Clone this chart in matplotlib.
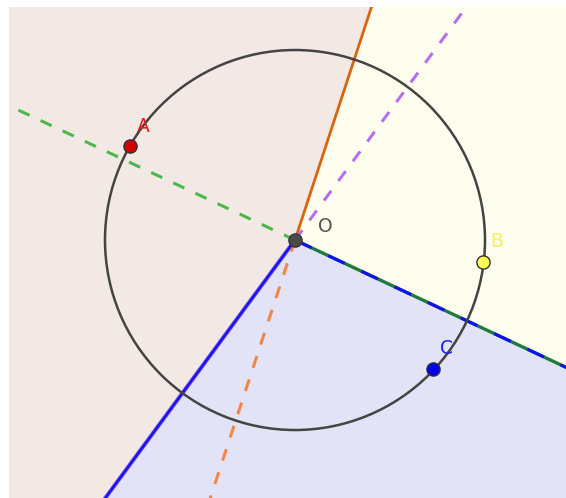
import numpy as np
import matplotlib.pyplot as plt
from matplotlib.patches import Wedge, Circle

# points on the circle (centre O at origin), radius 5
names = ["A", "B", "C"]
px = [-4.34, 4.95, 3.63]
py = [2.47, -0.58, -3.39]
point_colors = ["#D40000", "#FFFF55", "#0000F0"]
label_colors = ["#E02020", "#F5F060", "#2020F0"]
radius = 5.0

fig = plt.figure(figsize=(5.66, 4.98), dpi=100)
ax = fig.add_axes([9 / 566, 0, 557 / 566, 491 / 498])
ax.set_xlim(-7.526, 7.132)
ax.set_ylim(-6.789, 6.132)
ax.axis("off")

P = np.array(list(zip(px, py)))


def bisector_dir(i, j, k):
    # direction of the perpendicular bisector of Pi Pj, pointing away from Pk
    d = P[j] - P[i]
    n = np.array([-d[1], d[0]])
    n = n / np.linalg.norm(n)
    if np.dot(n, P[k]) > 0:
        n = -n
    return n


d_ab = bisector_dir(0, 1, 2)   # orange
d_ac = bisector_dir(0, 2, 1)   # purple
d_bc = bisector_dir(1, 2, 0)   # green


def ang(d):
    return np.degrees(np.arctan2(d[1], d[0]))


big = 40
ax.add_patch(Wedge((0, 0), big, ang(d_ab), ang(d_ac), facecolor="#F2E9E5", edgecolor="none", zorder=0))
ax.add_patch(Wedge((0, 0), big, ang(d_bc), ang(d_ab), facecolor="#FEFEEF", edgecolor="none", zorder=0))
ax.add_patch(Wedge((0, 0), big, ang(d_ac), ang(d_bc), facecolor="#E3E3F8", edgecolor="none", zorder=0))

L = 30
# orange line: solid ray up, dashed the other way
ax.plot([0, L * d_ab[0]], [0, L * d_ab[1]], color="#D9640F", lw=2, zorder=3)
ax.plot([0, -L * d_ab[0]], [0, -L * d_ab[1]], color="#F58545", lw=2.2, ls=(0, (4, 4)), zorder=3)
# purple line: dashed up right, solid blue ray down left
ax.plot([0, -L * d_ac[0]], [0, -L * d_ac[1]], color="#B470F5", lw=2.2, ls=(0, (4, 4)), zorder=3)
ax.plot([0, L * d_ac[0]], [0, L * d_ac[1]], color="#8C5CF0", lw=3, zorder=3)
ax.plot([0, L * d_ac[0]], [0, L * d_ac[1]], color="#1515F0", lw=1.8, zorder=3)
# green line: dashed left, solid ray right with blue dashes
ax.plot([0, -L * d_bc[0]], [0, -L * d_bc[1]], color="#4CB84C", lw=2.2, ls=(0, (4, 4)), zorder=3)
ax.plot([0, L * d_bc[0]], [0, L * d_bc[1]], color="#1F7A3F", lw=2.4, zorder=3)
ax.plot([0, L * d_bc[0]], [0, L * d_bc[1]], color="#1010F0", lw=2.2, ls=(0, (6, 6)), zorder=3)

ax.add_patch(Circle((0, 0), radius, fill=False, edgecolor="#444444", lw=1.8, zorder=4))

for x, y, n, pc, lc in zip(px, py, names, point_colors, label_colors):
    ax.plot(x, y, "o", ms=9.5, mfc=pc, mec="#333333", mew=1, zorder=5)
    ax.annotate(n, (x, y), xytext=(9.5, 14.5), textcoords="offset points",
                ha="center", va="center", fontsize=13.5, color=lc, zorder=6)

ax.plot(0, 0, "o", ms=9.5, mfc="#4A4A4A", mec="#333333", mew=1, zorder=5)
ax.annotate("O", (0, 0), xytext=(21.5, 10), textcoords="offset points",
            ha="center", va="center", fontsize=13.5, color="#555555", zorder=6)

fig.text(437 / 566, 1 + 2.5 / 498, "g", ha="center", va="baseline", fontsize=11)

fig.savefig("out.png", dpi=100, facecolor="white")
